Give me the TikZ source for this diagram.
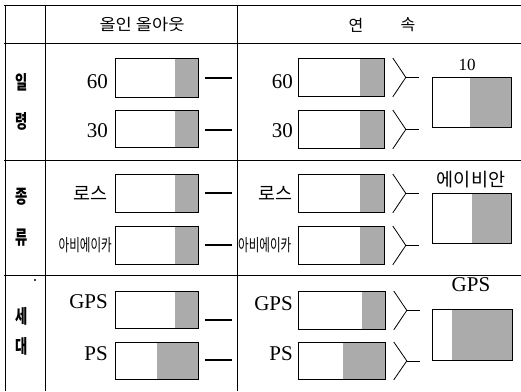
\documentclass[tikz,border=0pt]{standalone}
\usepackage{fontspec}
\setmainfont{Liberation Serif}
\newfontfamily\kr{Noto Sans CJK KR}
\newcommand\splitbx[6]{%
  \fill[shd] (#6,#3) rectangle (#4,#5);
  \node[bx, minimum width={#4-#2}, minimum height={#5-#3}] (#1) at (#2,#3) {};
}
\newcommand\brk[1]{%
  \draw[tline] ([xshift=8pt]#1.north east) -- ([xshift=21pt]#1.east) -- ([xshift=8pt]#1.south east);
  \draw[tline] ([xshift=21pt]#1.east) -- ([xshift=34pt]#1.east);
}
\begin{document}
\begin{tikzpicture}[x=1pt,y=-1pt,
  tline/.style={line width=0.8pt},
  dashln/.style={line width=1.1pt},
  bx/.style={draw, line width=0.8pt, inner sep=0pt, anchor=north west},
  shd/.style={fill=black!33},
  num/.style={font=\fontsize{21}{21}\selectfont, inner sep=0pt},
  numsm/.style={font=\fontsize{17}{17}\selectfont, inner sep=0pt},
  krl/.style={font=\kr\fontsize{18.5}{18.5}\selectfont, inner sep=0pt},
  krsm/.style={font=\kr\fontsize{17}{17}\selectfont, inner sep=0pt},
  krh/.style={font=\kr\fontsize{16}{16}\selectfont, inner sep=0pt},
  krs/.style={font=\kr\bfseries\fontsize{19}{19}\selectfont, inner sep=0pt}]
\useasboundingbox (0,0) rectangle (521,391);
% table lines
\draw[tline] (4,5) -- (521,5);
\draw[tline] (4,43) -- (521,43);
\draw[tline] (4,160) -- (521,160);
\draw[tline] (4,275) -- (521,275);
\draw[tline] (5,5) -- (5,391);
\draw[tline] (45,5) -- (45,391);
\draw[tline] (237,5) -- (237,391);
% header
\node[krh] (h1) at (142,25) {\scalebox{1.1}[1]{올인 올아웃}};
\node[krh] (h2a) at (356,25) {연};
\node[krh] (h2b) at (408,25) {속};
% row labels
\node[krs] (r1a) at (22,82) {\scalebox{0.7}[1]{일}};
\node[krs] (r1b) at (22,121) {\scalebox{0.7}[1]{령}};
\node[krs] (r2a) at (22,197) {\scalebox{0.7}[1]{종}};
\node[krs] (r2b) at (22,238) {\scalebox{0.7}[1]{류}};
\node[krs] (r3a) at (22,316) {\scalebox{0.7}[1]{세}};
\node[krs] (r3b) at (22,346) {\scalebox{0.7}[1]{대}};
\fill (35,280) circle (1.1pt);
% column 2 boxes
\splitbx{a1}{115}{58}{198}{97}{175}
\splitbx{a2}{115}{110}{198}{147}{175}
\splitbx{a3}{115}{174}{198}{212}{175}
\splitbx{a4}{115}{226}{198}{264}{175}
\splitbx{a5}{115}{291}{198}{328}{175}
\splitbx{a6}{115}{342}{198}{379}{157}
% column 2 labels
\node[num, anchor=east] (la1) at (108,82) {60};
\node[num, anchor=east] (la2) at (108,131) {30};
\node[krl, anchor=east] (la3) at (108,193) {로스};
\node[krsm, anchor=east] (la4) at (112,245) {\scalebox{0.68}[1]{아비에이카}};
\node[num, anchor=east] (la5) at (108,302) {GPS};
\node[num, anchor=east] (la6) at (108,354) {PS};
% column 2 dashes
\draw[dashln] (205,78) -- (232,78);
\draw[line width=1.7pt] (205,130) -- (232,130);
\draw[dashln] (205,193) -- (232,193);
\draw[dashln] (205,245) -- (232,245);
\draw[line width=1.4pt] (205,320) -- (232,320);
\draw[line width=1.4pt] (205,360) -- (232,360);
% column 3 boxes
\splitbx{b1}{298}{58}{384}{96}{360}
\splitbx{b2}{298}{110}{384}{148}{360}
\splitbx{b3}{298}{174}{384}{212}{360}
\splitbx{b4}{298}{226}{384}{264}{360}
\splitbx{b5}{298}{291}{385}{329}{362}
\splitbx{b6}{298}{342}{385}{379}{343}
% column 3 labels
\node[num, anchor=east] (lb1) at (293,82) {60};
\node[num, anchor=east] (lb2) at (293,131) {30};
\node[krl, anchor=east] (lb3) at (293,193) {로스};
\node[krsm, anchor=west] (lb4) at (238,245) {\scalebox{0.68}[1]{아비에이카}};
\node[num, anchor=east] (lb5) at (293,304) {GPS};
\node[num, anchor=east] (lb6) at (293,354) {PS};
% brackets
\brk{b1}\brk{b2}\brk{b3}\brk{b4}\brk{b5}\brk{b6}
% result boxes
\splitbx{c1}{432}{77}{511}{127}{470}
\splitbx{c2}{432}{193}{511}{243}{472}
\splitbx{c3}{432}{309}{512}{360}{452}
\node[numsm] (lc1) at (467,65) {10};
\node[krl] (lc2) at (471,180) {에이비안};
\node[num] (lc3) at (471,285) {GPS};
\end{tikzpicture}
\end{document}
